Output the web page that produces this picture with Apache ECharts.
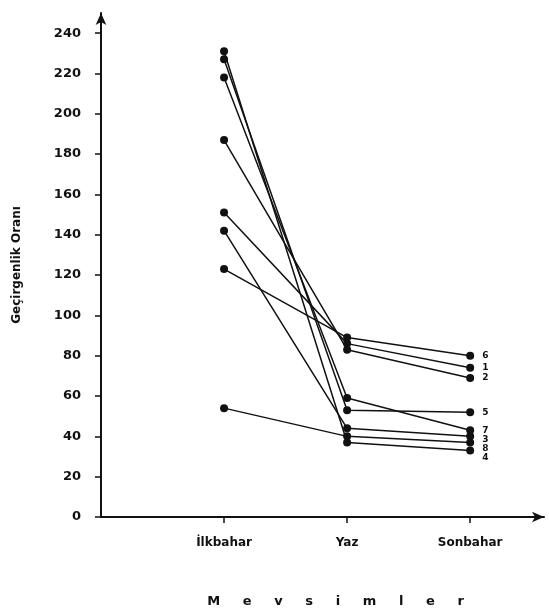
<!DOCTYPE html>
<html>
<head>
<meta charset="utf-8">
<script src="https://cdn.jsdelivr.net/npm/echarts@6/dist/echarts.min.js"></script>
<style>
  html, body { margin: 0; padding: 0; background: #fff; }
  #chart { width: 549px; height: 613px; }
</style>
</head>
<body>
<div id="chart"></div>
<script>
// seasons (x positions 1..3 on the value axis)
var seasons = ['İlkbahar', 'Yaz', 'Sonbahar'];
var yTicks = [0, 20, 40, 60, 80, 100, 120, 140, 160, 180, 200, 220, 240];

// series name -> values for İlkbahar, Yaz, Sonbahar
var s1 = [151, 86, 74];
var s2 = [187, 83, 69];
var s3 = [142, 44, 40];
var s4 = [231, 37, 33];
var s5 = [227, 53, 52];
var s6 = [123, 89, 80];
var s7 = [218, 59, 43];
var s8 = [54, 40, 37];
var seriesNames = ['1', '2', '3', '4', '5', '6', '7', '8'];
var seriesValues = [s1, s2, s3, s4, s5, s6, s7, s8];

var ink = '#111';
var fontFam = 'DejaVu Sans, sans-serif';

var chart = echarts.init(document.getElementById('chart'));

var series = seriesNames.map(function (name, i) {
  return {
    name: name,
    type: 'line',
    data: seriesValues[i].map(function (v, j) { return [j + 1, v]; }),
    symbol: 'circle',
    symbolSize: 8,
    itemStyle: { color: ink },
    lineStyle: { color: ink, width: 1.5 },
    endLabel: {
      show: true,
      formatter: name,
      color: ink,
      fontSize: 9,
      fontWeight: 'bold',
      fontFamily: fontFam,
      distance: 12
    },
    labelLayout: { moveOverlap: 'shiftY' },
    animation: false
  };
});

chart.setOption({
  backgroundColor: '#fff',
  animation: false,
  grid: { left: 101, right: 5, top: 13, bottom: 94 },
  xAxis: {
    type: 'value',
    min: 0,
    max: 3.6,
    name: 'M     e     v     s     i     m     l     e     r',
    nameLocation: 'middle',
    nameGap: 78,
    nameTextStyle: { color: ink, fontSize: 13, fontWeight: 'bold', fontFamily: fontFam, padding: [0, 0, 0, 26] },
    splitLine: { show: false },
    axisLine: {
      show: true,
      onZero: false,
      symbol: ['none', 'arrow'],
      symbolSize: [8, 12],
      lineStyle: { color: ink, width: 2 }
    },
    axisTick: {
      show: true,
      inside: false,
      length: 6,
      customValues: [1, 2, 3],
      lineStyle: { color: ink, width: 1.5 }
    },
    axisLabel: {
      customValues: [1, 2, 3],
      formatter: function (v) { return seasons[Math.round(v) - 1] || ''; },
      color: ink,
      fontSize: 12,
      fontWeight: 'bold',
      fontFamily: fontFam,
      margin: 20
    }
  },
  yAxis: {
    type: 'value',
    min: 0,
    max: 250,
    name: 'Geçirgenlik Oranı',
    nameLocation: 'middle',
    nameGap: 78,
    nameRotate: 90,
    nameTextStyle: { color: ink, fontSize: 12, fontWeight: 'bold', fontFamily: fontFam },
    splitLine: { show: false },
    axisLine: {
      show: true,
      symbol: ['none', 'arrow'],
      symbolSize: [8, 12],
      lineStyle: { color: ink, width: 2 }
    },
    axisTick: {
      show: true,
      length: 6,
      customValues: yTicks,
      lineStyle: { color: ink, width: 1.5 }
    },
    axisLabel: {
      customValues: yTicks,
      color: ink,
      fontSize: 13,
      fontWeight: 'bold',
      fontFamily: fontFam,
      margin: 20
    }
  },
  series: series
});
</script>
</body>
</html>
